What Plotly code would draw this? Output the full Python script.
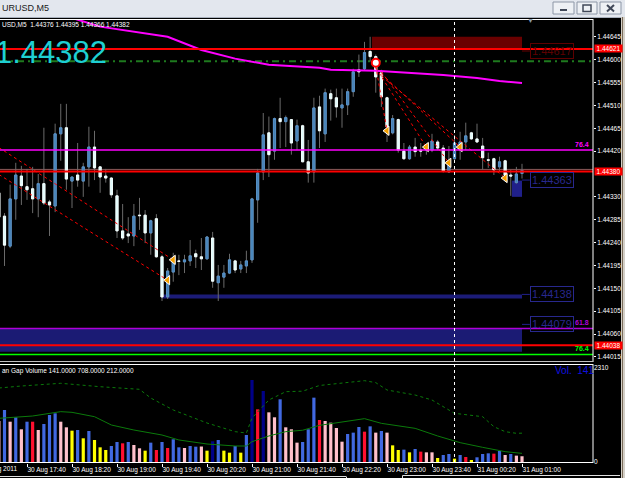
import pandas as pd
import plotly.graph_objects as go

# ---------------- data ----------------
bar_times = pd.date_range("2011-08-30 17:15", "2011-08-31 01:00", freq="5min")

opens = [1.44338, 1.44292, 1.44233, 1.44326, 1.44371, 1.44350, 1.44346, 1.44326, 1.44356, 1.44320,
         1.44312, 1.44454, 1.44466, 1.44361, 1.44373, 1.44361, 1.44389, 1.44428, 1.44389, 1.44371,
         1.44367, 1.44332, 1.44263, 1.44257, 1.44253, 1.44294, 1.44294, 1.44259, 1.44287, 1.44212,
         1.44133, 1.44182, 1.44204, 1.44202, 1.44204, 1.44218, 1.44212, 1.44208, 1.44249, 1.44161,
         1.44172, 1.44180, 1.44204, 1.44188, 1.44194, 1.44206, 1.44324, 1.44379, 1.44456, 1.44420,
         1.44484, 1.44478, 1.44482, 1.44440, 1.44470, 1.44399, 1.44379, 1.44507, 1.44454, 1.44533,
         1.44525, 1.44505, 1.44511, 1.44537, 1.44580, 1.44582, 1.44616, 1.44606, 1.44574, 1.44525,
         1.44456, 1.44482, 1.44420, 1.44405, 1.44428, 1.44422, 1.44422, 1.44422, 1.44438, 1.44426,
         1.44379, 1.44405, 1.44422, 1.44438, 1.44456, 1.44444, 1.44430, 1.44403, 1.44405, 1.44389,
         1.44401, 1.44373, 1.44358, 1.44376]
highs = [1.44344, 1.44298, 1.44354, 1.44397, 1.44391, 1.44385, 1.44389, 1.44375, 1.44466, 1.44324,
         1.44474, 1.44513, 1.44513, 1.44369, 1.44436, 1.44397, 1.44468, 1.44460, 1.44390, 1.44385,
         1.44369, 1.44344, 1.44316, 1.44290, 1.44316, 1.44328, 1.44304, 1.44285, 1.44296, 1.44216,
         1.44190, 1.44220, 1.44216, 1.44216, 1.44245, 1.44226, 1.44249, 1.44253, 1.44261, 1.44196,
         1.44196, 1.44218, 1.44206, 1.44204, 1.44224, 1.44328, 1.44385, 1.44495, 1.44488, 1.44486,
         1.44525, 1.44490, 1.44483, 1.44482, 1.44472, 1.44442, 1.44525, 1.44529, 1.44543, 1.44541,
         1.44543, 1.44543, 1.44543, 1.44582, 1.44610, 1.44635, 1.44645, 1.44610, 1.44580, 1.44527,
         1.44491, 1.44484, 1.44436, 1.44432, 1.44446, 1.44436, 1.44432, 1.44454, 1.44442, 1.44432,
         1.44430, 1.44452, 1.44458, 1.44476, 1.44458, 1.44474, 1.44446, 1.44417, 1.44407, 1.44409,
         1.44403, 1.44383, 1.44389, 1.44395]
lows = [1.44281, 1.44194, 1.44229, 1.44285, 1.44314, 1.44324, 1.44298, 1.44290, 1.44314, 1.44253,
        1.44300, 1.44401, 1.44344, 1.44308, 1.44350, 1.44330, 1.44350, 1.44363, 1.44338, 1.44358,
        1.44328, 1.44249, 1.44245, 1.44239, 1.44233, 1.44265, 1.44239, 1.44216, 1.44210, 1.44125,
        1.44129, 1.44163, 1.44176, 1.44180, 1.44194, 1.44190, 1.44186, 1.44207, 1.44151, 1.44125,
        1.44151, 1.44178, 1.44180, 1.44180, 1.44180, 1.44200, 1.44279, 1.44363, 1.44369, 1.44403,
        1.44426, 1.44428, 1.44413, 1.44422, 1.44398, 1.44358, 1.44358, 1.44426, 1.44438, 1.44480,
        1.44486, 1.44466, 1.44491, 1.44527, 1.44566, 1.44579, 1.44596, 1.44535, 1.44507, 1.44438,
        1.44453, 1.44417, 1.44403, 1.44403, 1.44409, 1.44409, 1.44413, 1.44418, 1.44422, 1.44378,
        1.44377, 1.44403, 1.44403, 1.44422, 1.44442, 1.44436, 1.44383, 1.44387, 1.44373, 1.44379,
        1.44360, 1.44332, 1.44356, 1.44366]
closes = [1.44290, 1.44235, 1.44326, 1.44373, 1.44352, 1.44344, 1.44326, 1.44356, 1.44318, 1.44314,
          1.44454, 1.44466, 1.44365, 1.44369, 1.44363, 1.44389, 1.44428, 1.44387, 1.44369, 1.44367,
          1.44334, 1.44263, 1.44249, 1.44253, 1.44292, 1.44293, 1.44259, 1.44283, 1.44212, 1.44133,
          1.44184, 1.44206, 1.44203, 1.44206, 1.44214, 1.44212, 1.44208, 1.44251, 1.44164, 1.44174,
          1.44180, 1.44206, 1.44186, 1.44196, 1.44204, 1.44326, 1.44377, 1.44452, 1.44413, 1.44484,
          1.44478, 1.44486, 1.44436, 1.44470, 1.44399, 1.44377, 1.44505, 1.44460, 1.44535, 1.44523,
          1.44507, 1.44511, 1.44537, 1.44576, 1.44576, 1.44614, 1.44606, 1.44566, 1.44527, 1.44468,
          1.44484, 1.44422, 1.44405, 1.44428, 1.44419, 1.44420, 1.44428, 1.44440, 1.44426, 1.44381,
          1.44395, 1.44436, 1.44438, 1.44450, 1.44444, 1.44438, 1.44407, 1.44402, 1.44383, 1.44399,
          1.44373, 1.44371, 1.44375, 1.44382]

volumes = [1007, 1278, 990, 1098, 803, 990, 990, 786, 934, 1155,
           1196, 990, 852, 770, 786, 582, 762, 541, 360, 295,
           393, 491, 459, 491, 418, 336, 278, 475, 295, 491,
           344, 557, 360, 344, 393, 376, 380, 278, 508, 541,
           278, 229, 393, 229, 663, 2015, 1294, 1744, 1220, 1098,
           1540, 852, 803, 475, 491, 803, 1581, 1032, 1007, 966,
           835, 499, 688, 721, 860, 745, 876, 721, 762, 721,
           409, 295, 303, 237, 319, 254, 237, 237, 98, 172,
           197, 82, 172, 123, 49, 115, 197, 213, 205, 270,
           172, 197, 156, 141]
volume_kind = ["p", "b", "p", "b", "p", "b", "r", "p", "b", "b",
               "b", "p", "p", "y", "b", "y", "b", "y", "y", "y",
               "b", "b", "r", "b", "p", "p", "y", "b", "r", "b",
               "r", "b", "b", "p", "b", "b", "p", "y", "n", "b",
               "y", "y", "b", "y", "b", "n", "r", "n", "p", "p",
               "b", "p", "p", "p", "b", "b", "b", "r", "p", "p",
               "p", "p", "b", "b", "b", "r", "b", "p", "b", "p",
               "y", "y", "b", "y", "b", "r", "p", "p", "y", "b",
               "b", "y", "b", "r", "y", "b", "b", "b", "r", "b",
               "p", "b", "p", "p"]

# price moving average (magenta)
ma_price_times = ["2011-08-30 18:20", "2011-08-30 18:45", "2011-08-30 19:45", "2011-08-30 20:15",
                  "2011-08-30 20:45", "2011-08-30 21:15", "2011-08-30 22:00", "2011-08-30 22:10",
                  "2011-08-30 22:50", "2011-08-30 23:20", "2011-08-30 23:50", "2011-08-31 00:20",
                  "2011-08-31 00:40", "2011-08-31 01:00"]
ma_price_values = [1.44682, 1.44665, 1.44645, 1.44619, 1.44602, 1.44590, 1.44584, 1.44580,
                   1.44578, 1.44574, 1.44570, 1.44564, 1.44558, 1.44554]

# volume averages
vol_slow_times = ["2011-08-30 17:15", "2011-08-30 17:35", "2011-08-30 18:10", "2011-08-30 18:45",
                  "2011-08-30 19:20", "2011-08-30 19:30", "2011-08-30 19:50", "2011-08-30 20:20",
                  "2011-08-30 20:45", "2011-08-30 20:55", "2011-08-30 21:00", "2011-08-30 21:15",
                  "2011-08-30 21:30", "2011-08-30 21:45", "2011-08-30 22:00", "2011-08-30 22:40",
                  "2011-08-30 22:50", "2011-08-30 23:00", "2011-08-30 23:25", "2011-08-30 23:40",
                  "2011-08-31 00:00", "2011-08-31 00:25", "2011-08-31 00:35", "2011-08-31 00:45",
                  "2011-08-31 00:55", "2011-08-31 01:00"]
vol_slow_values = [1818, 1867, 1934, 1850, 1786, 1572, 1278, 958, 745, 712, 1081, 1523, 1728,
                   1740, 1880, 1998, 1950, 1769, 1646, 1523, 1196, 1113, 867, 745, 705, 708]
vol_fast_times = ["2011-08-30 17:15", "2011-08-30 17:45", "2011-08-30 18:10", "2011-08-30 18:20",
                  "2011-08-30 18:40", "2011-08-30 18:55", "2011-08-30 19:15", "2011-08-30 19:40",
                  "2011-08-30 19:55", "2011-08-30 20:20", "2011-08-30 20:45", "2011-08-30 20:55",
                  "2011-08-30 21:00", "2011-08-30 21:15", "2011-08-30 21:30", "2011-08-30 21:45",
                  "2011-08-30 22:00", "2011-08-30 22:20", "2011-08-30 22:40", "2011-08-30 22:55",
                  "2011-08-30 23:25", "2011-08-30 23:45", "2011-08-31 00:05", "2011-08-31 00:25",
                  "2011-08-31 00:45", "2011-08-31 01:00"]
vol_fast_values = [1073, 1130, 1237, 1220, 1113, 909, 786, 663, 541, 442, 393, 393, 499, 639,
                   745, 780, 900, 990, 1065, 950, 827, 639, 475, 360, 254, 212]

# closed trades (open time, open price, close time, close price)
trades = [("2011-08-30 17:15", 1.44427, "2011-08-30 19:50", 1.44206),
          ("2011-08-30 17:15", 1.44374, "2011-08-30 19:45", 1.44166),
          ("2011-08-30 22:50", 1.44588, "2011-08-30 23:00", 1.44460),
          ("2011-08-30 22:50", 1.44584, "2011-08-30 23:35", 1.44428),
          ("2011-08-30 22:55", 1.44576, "2011-08-30 23:55", 1.44397),
          ("2011-08-30 22:55", 1.44572, "2011-08-31 00:05", 1.44428),
          ("2011-08-30 22:55", 1.44568, "2011-08-31 00:45", 1.44367)]
open_marker = ("2011-08-30 22:50", 1.44594)

price_tick_values = [1.44645, 1.44600, 1.44555, 1.44510, 1.44465, 1.44420, 1.44330,
                     1.44285, 1.44240, 1.44195, 1.44150, 1.44105, 1.44060, 1.44015]
price_tick_labels = ["%.5f" % v for v in price_tick_values]
time_tick_values = ["2011-08-30 17:40", "2011-08-30 18:20", "2011-08-30 19:00", "2011-08-30 19:40",
                    "2011-08-30 20:20", "2011-08-30 21:00", "2011-08-30 21:40", "2011-08-30 22:20",
                    "2011-08-30 23:00", "2011-08-30 23:40", "2011-08-31 00:20", "2011-08-31 01:00"]
time_tick_labels = ["30 Aug 17:40", "30 Aug 18:20", "30 Aug 19:00", "30 Aug 19:40",
                    "30 Aug 20:20", "30 Aug 21:00", "30 Aug 21:40", "30 Aug 22:20",
                    "30 Aug 23:00", "30 Aug 23:40", "31 Aug 00:20", "31 Aug 01:00"]

# horizontal levels
level_sell_zone = (1.44645, 1.44619, "2011-08-30 22:46:40", "2011-08-31 01:00")
level_buy_zone = (1.44070, 1.44025, "2011-08-30 16:00", "2011-08-31 01:00")
level_small_box = (1.44362, 1.44330, "2011-08-31 00:51", "2011-08-31 01:00")
level_support = (1.44134, "2011-08-30 19:40", "2011-08-31 01:00")
red_levels = [1.44621, 1.44380, 1.44038]
bid_level = 1.44384
green_dashdot_level = 1.44597
fib_levels = [(1.44422, "#FF00FF", "76.4"), (1.44071, "#B000D8", "61.8"), (1.44020, "#00FF00", "76.4")]
vline_time = "2011-08-31 00:00"

assert len(bar_times) == len(opens) == len(highs) == len(lows) == len(closes) == len(volumes) == len(volume_kind)

# ---------------- figure ----------------
W, H = 625, 478
ML, MR, MT, MB = 0, 32, 19, 15
PW, PH = W - ML - MR, H - MT - MB


def pxx(x):
    return (x - ML) / PW


def pxy(y):
    return (H - MB - y) / PH


SMALL = "Liberation Sans Narrow, Liberation Sans, Arial, sans-serif"
WICK = "#6a6a6a"

fig = go.Figure()

# candle wicks
fig.add_trace(go.Candlestick(
    x=bar_times, open=opens, high=highs, low=lows, close=closes,
    increasing=dict(line=dict(color=WICK, width=1), fillcolor="rgba(0,0,0,0)"),
    decreasing=dict(line=dict(color=WICK, width=1), fillcolor="rgba(0,0,0,0)"),
    whiskerwidth=0, hoverinfo="skip", xaxis="x", yaxis="y"))
# candle bodies
body_hi = [max(o, c) for o, c in zip(opens, closes)]
body_lo = [min(o, c) for o, c in zip(opens, closes)]
fig.add_trace(go.Candlestick(
    x=bar_times, open=opens, high=body_hi, low=body_lo, close=closes,
    increasing=dict(line=dict(color="#5590C8", width=1), fillcolor="#4682B4"),
    decreasing=dict(line=dict(color="#F4FFFF", width=1), fillcolor="#DDFBFB"),
    whiskerwidth=0, hoverinfo="skip", xaxis="x", yaxis="y"))

# magenta MA
fig.add_trace(go.Scatter(x=ma_price_times, y=ma_price_values, mode="lines",
                         line=dict(color="#FF00FF", width=2), hoverinfo="skip",
                         xaxis="x", yaxis="y"))

# trade lines
for t0, p0, t1, p1 in trades:
    fig.add_trace(go.Scatter(x=[t0, t1], y=[p0, p1], mode="lines",
                             line=dict(color="#FF0000", width=1, dash="dot"),
                             hoverinfo="skip", xaxis="x", yaxis="y"))
fig.add_trace(go.Scatter(x=[t[2] for t in trades], y=[t[3] for t in trades], mode="markers",
                         marker=dict(symbol="triangle-left", size=8, color="#F5A000",
                                     line=dict(color="#FFFFFF", width=1)),
                         hoverinfo="skip", xaxis="x", yaxis="y"))
fig.add_trace(go.Scatter(x=[open_marker[0]], y=[open_marker[1]], mode="markers",
                         marker=dict(symbol="circle", size=8, color="#FFFFFF",
                                     line=dict(color="#FF0000", width=2)),
                         hoverinfo="skip", xaxis="x", yaxis="y"))

# volume
cmap = {"b": "#4169E1", "p": "#FFC0CB", "r": "#FF1030", "y": "#FFFF00", "n": "#000088"}
fig.add_trace(go.Bar(x=bar_times, y=volumes, marker=dict(color=[cmap[k] for k in volume_kind],
                                                         line=dict(width=0)),
                     width=170000, hoverinfo="skip", xaxis="x2", yaxis="y2"))
fig.add_trace(go.Scatter(x=vol_slow_times, y=vol_slow_values, mode="lines",
                         line=dict(color="#0B7A0B", width=1, dash="dot"), hoverinfo="skip",
                         xaxis="x2", yaxis="y2"))
fig.add_trace(go.Scatter(x=vol_fast_times, y=vol_fast_values, mode="lines",
                         line=dict(color="#0B7A0B", width=1), hoverinfo="skip",
                         xaxis="x2", yaxis="y2"))

x_range = ["2011-08-30 17:16", "2011-08-31 02:03:06"]
main_dom = [pxy(362), 1.0]
vol_dom = [0.0, pxy(364)]

shapes = []
# zones
shapes.append(dict(type="rect", xref="x", yref="y", x0=level_sell_zone[2], x1=level_sell_zone[3],
                   y0=level_sell_zone[1], y1=level_sell_zone[0], fillcolor="#6A0000",
                   line=dict(width=0), layer="below"))
shapes.append(dict(type="rect", xref="x", yref="y", x0=level_buy_zone[2], x1=level_buy_zone[3],
                   y0=level_buy_zone[1], y1=level_buy_zone[0], fillcolor="#1B1B74",
                   line=dict(width=0), layer="below"))
shapes.append(dict(type="rect", xref="x", yref="y", x0=level_small_box[2], x1=level_small_box[3],
                   y0=level_small_box[1], y1=level_small_box[0], fillcolor="#20208A",
                   line=dict(width=0), layer="below"))
shapes.append(dict(type="line", xref="x", yref="y", x0=level_support[1], x1=level_support[2],
                   y0=level_support[0], y1=level_support[0], line=dict(color="#1C1C78", width=4),
                   layer="below"))
shapes.append(dict(type="line", xref="paper", yref="y", x0=0, x1=1, y0=green_dashdot_level,
                   y1=green_dashdot_level, line=dict(color="#1E7A1E", width=2, dash="7px,4px,2px,4px"),
                   layer="below"))
for lvl, col, _ in fib_levels:
    shapes.append(dict(type="line", xref="paper", yref="y", x0=0, x1=1, y0=lvl, y1=lvl,
                       line=dict(color=col, width=1.5), layer="above"))
shapes.append(dict(type="line", xref="paper", yref="y", x0=0, x1=1, y0=bid_level, y1=bid_level,
                   line=dict(color="rgba(255,160,160,0.55)", width=1), layer="below"))
for lvl in red_levels:
    shapes.append(dict(type="line", xref="paper", yref="y", x0=0, x1=1, y0=lvl, y1=lvl,
                       line=dict(color="#FF0000", width=2), layer="above"))
# connectors to labels
for lvl, col in [(1.44617, "#6A0000"), (1.44363, "#20208A"), (1.44138, "#20208A"), (1.44079, "#20208A")]:
    shapes.append(dict(type="line", xref="x", yref="y", x0="2011-08-31 01:00", x1="2011-08-31 01:07",
                       y0=lvl, y1=lvl, line=dict(color=col, width=1)))
# current-time vertical dotted line
shapes.append(dict(type="line", xref="x", yref="paper", x0=vline_time, x1=vline_time, y0=0, y1=1,
                   line=dict(color="#FFFFFF", width=1, dash="dot"), layer="above"))

# pane borders
WL = dict(color="#FFFFFF", width=1)
shapes += [
    dict(type="line", xref="paper", yref="paper", x0=0, x1=1, y0=pxy(19.5), y1=pxy(19.5), line=WL),
    dict(type="line", xref="paper", yref="paper", x0=1, x1=1, y0=pxy(19), y1=pxy(362), line=WL),
    dict(type="line", xref="paper", yref="paper", x0=0, x1=1, y0=pxy(361.5), y1=pxy(361.5),
         line=dict(color="#C0C0C0", width=1)),
    dict(type="line", xref="paper", yref="paper", x0=0, x1=1, y0=pxy(364.5), y1=pxy(364.5), line=WL),
    dict(type="line", xref="paper", yref="paper", x0=1, x1=1, y0=pxy(364), y1=pxy(463), line=WL),
    dict(type="line", xref="paper", yref="paper", x0=0, x1=1, y0=pxy(462.5), y1=pxy(462.5), line=WL),
]
# window chrome
shapes += [
    dict(type="rect", xref="paper", yref="paper", x0=pxx(-2), x1=pxx(627), y0=pxy(18), y1=pxy(-2),
         fillcolor="#E3E7EE", line=dict(width=0)),
    dict(type="line", xref="paper", yref="paper", x0=pxx(0), x1=pxx(625), y0=pxy(17.5), y1=pxy(17.5),
         line=dict(color="#A8B0BC", width=1)),
    dict(type="rect", xref="paper", yref="paper", x0=pxx(621), x1=pxx(627), y0=pxy(480), y1=pxy(17),
         fillcolor="#D4D0C8", line=dict(width=0)),
    dict(type="line", xref="paper", yref="paper", x0=pxx(622.5), x1=pxx(622.5), y0=pxy(480), y1=pxy(17),
         line=dict(color="#7A6C5A", width=1)),
    dict(type="line", xref="paper", yref="paper", x0=pxx(0), x1=pxx(346), y0=pxy(476.5), y1=pxy(476.5),
         line=dict(color="#E0E0E0", width=1)),
    dict(type="line", xref="paper", yref="paper", x0=pxx(346.5), x1=pxx(346.5), y0=pxy(476.5), y1=pxy(479),
         line=dict(color="#E0E0E0", width=1)),
    dict(type="line", xref="paper", yref="paper", x0=pxx(402.5), x1=pxx(620), y0=pxy(475.5), y1=pxy(475.5),
         line=dict(color="#E0E0E0", width=1)),
    dict(type="line", xref="paper", yref="paper", x0=pxx(402.5), x1=pxx(402.5), y0=pxy(475.5), y1=pxy(479),
         line=dict(color="#E0E0E0", width=1)),
]
for bx0, bx1 in [(553, 574), (577, 597), (600, 621)]:
    shapes.append(dict(type="rect", xref="paper", yref="paper", x0=pxx(bx0), x1=pxx(bx1),
                       y0=pxy(14), y1=pxy(2), fillcolor="#EEF1F5",
                       line=dict(color="#8C96A6", width=1)))
shapes += [
    dict(type="rect", xref="paper", yref="paper", x0=pxx(560), x1=pxx(567), y0=pxy(11), y1=pxy(9),
         fillcolor="#404858", line=dict(width=0)),
    dict(type="rect", xref="paper", yref="paper", x0=pxx(583), x1=pxx(591), y0=pxy(11.5), y1=pxy(5),
         fillcolor="rgba(0,0,0,0)", line=dict(color="#404858", width=1.5)),
    dict(type="line", xref="paper", yref="paper", x0=pxx(607), x1=pxx(614), y0=pxy(5), y1=pxy(11.5),
         line=dict(color="#404858", width=2)),
    dict(type="line", xref="paper", yref="paper", x0=pxx(607), x1=pxx(614), y0=pxy(11.5), y1=pxy(5),
         line=dict(color="#404858", width=2)),
]

annotations = []


def ann(text, x, y, xref="paper", yref="paper", size=7, color="#FFFFFF", family=SMALL,
        xanchor="left", yanchor="middle", **kw):
    d = dict(text=text, x=x, y=y, xref=xref, yref=yref, showarrow=False, xanchor=xanchor,
             yanchor=yanchor, font=dict(size=size, color=color, family=family))
    d.update(kw)
    annotations.append(d)


ann("URUSD,M5", pxx(0), pxy(8.5), size=9, color="#1A1A1A")
ann("USD,M5  1.44376 1.44395 1.44366 1.44382", pxx(0), pxy(24.5), size=6.5)
ann("1.44382", pxx(-7), pxy(52), size=31, color="#1ECFD2", family="Liberation Sans, Arial, sans-serif")
ann("an Gap Volume 141.0000 708.0000 212.0000", pxx(0), pxy(371), size=6.5)
ann("Vol.  141", pxx(553), pxy(370.5), size=10, color="#1010E0", family="Liberation Sans, Arial, sans-serif")
ann("30 Aug 2011", pxx(19), pxy(469.5), xanchor="right", size=6.5)

# in-chart price boxes
for lvl, txt, col in [(1.44617, "1.44617", "#5E0000"), (1.44363, "1.44363", "#28288E"),
                      (1.44138, "1.44138", "#28288E"), (1.44079, "1.44079", "#28288E")]:
    ann(txt, "2011-08-31 01:07", lvl, xref="x", yref="y", size=11, color=col,
        family="Liberation Sans, Arial, sans-serif", bordercolor=col, borderwidth=1, borderpad=1)
# fib labels
for lvl, col, txt in fib_levels:
    ann("<b>" + txt + "</b>", pxx(591), lvl, yref="y", size=7, color=col, xanchor="right",
        yanchor="bottom")
# axis red price boxes
for lvl in red_levels:
    ann("%.5f" % lvl, 1.0, lvl, yref="y", size=6.5, color="#FFFFFF", bgcolor="#FF0000",
        xshift=1, borderpad=0, width=27)
# chart-shift marker
ann("▼", pxx(530), pxy(21), size=7, color="#8A9AAA", xanchor="center")

fig.update_layout(
    width=W, height=H, autosize=False,
    margin=dict(l=ML, r=MR, t=MT, b=MB, pad=0),
    paper_bgcolor="#000000", plot_bgcolor="#000000",
    showlegend=False, boxgap=0.45,
    shapes=shapes, annotations=annotations,
    xaxis=dict(domain=[0, 1], anchor="y", range=x_range, showticklabels=False, showgrid=False,
               zeroline=False, showline=False, ticks="", rangeslider=dict(visible=False),
               type="date", automargin=False),
    yaxis=dict(domain=main_dom, anchor="x", side="right", range=[1.44005, 1.44680],
               tickvals=price_tick_values, ticktext=price_tick_labels, showgrid=False,
               zeroline=False, ticks="outside", ticklen=2, tickcolor="#FFFFFF",
               tickfont=dict(color="#FFFFFF", size=6.5, family=SMALL), showline=False,
               automargin=False),
    xaxis2=dict(domain=[0, 1], anchor="y2", matches="x", range=x_range, showgrid=False,
                zeroline=False, showline=False, ticks="outside", ticklen=3, tickcolor="#FFFFFF",
                tickvals=time_tick_values, ticktext=time_tick_labels, tickangle=0,
                ticklabelposition="outside right", automargin=False,
                tickfont=dict(color="#FFFFFF", size=6.5, family=SMALL), type="date",
                rangeslider=dict(visible=False)),
    yaxis2=dict(domain=vol_dom, anchor="x2", side="right", range=[-25, 2408],
                tickvals=[0, 2310], ticktext=["0", "2310"], showgrid=False, zeroline=False,
                ticks="", tickfont=dict(color="#FFFFFF", size=6.5, family=SMALL), showline=False,
                automargin=False),
)

fig.write_html("out.html")
